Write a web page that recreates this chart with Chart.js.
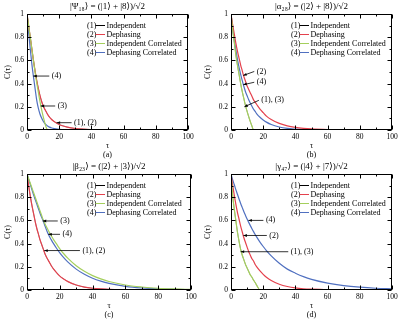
<!DOCTYPE html>
<html><head><meta charset="utf-8">
<script src="https://cdn.jsdelivr.net/npm/chart.js@4/dist/chart.umd.min.js"></script>
<style>
html,body{margin:0;padding:0;background:#fff;}
#wrap{position:relative;width:401px;height:321px;overflow:hidden;background:#fff;}
.pane{position:absolute;}
</style></head><body>
<div id="wrap">
<div class="pane" style="left:0;top:0;width:200px;height:160px"><canvas id="ca"></canvas></div>
<div class="pane" style="left:200px;top:0;width:201px;height:160px"><canvas id="cb"></canvas></div>
<div class="pane" style="left:0;top:160px;width:200px;height:160px"><canvas id="cc"></canvas></div>
<div class="pane" style="left:200px;top:160px;width:201px;height:160px"><canvas id="cd"></canvas></div>
</div>
<script>
// ---- data ----
const tau = [0,1,2,3,4,5,6,7,8,9,10,11,12,13,14,15,16,18,20,22,25,30,35,40,45,50,60,70,80,90,100];
const seriesNames = ['Independent','Dephasing','Independent Correlated','Dephasing Correlated'];

// panel (a)
const dephA  = [1,0.9,0.8,0.7,0.6,0.51,0.43,0.36,0.3,0.25,0.21,0.18,0.155,0.13,0.11,0.095,0.082,0.063,0.048,0.037,0.025,0.013,0.007,0.004,0.002,0.001,0,0,0,0,0];
const icorrA = [1,0.9,0.8,0.7,0.6,0.5,0.41,0.33,0.25,0.18,0.12,0.065,0.02,0,0,0,0,0,0,0,0,0,0,0,0,0,0,0,0,0,0];
const dcorrA = [1,0.84,0.7,0.57,0.46,0.36,0.26,0.19,0.14,0.105,0.078,0.058,0.044,0.033,0.025,0.019,0.015,0.009,0.005,0.003,0.001,0,0,0,0,0,0,0,0,0,0];
const indepA = dephA;   // (1) coincides with (2)

// panel (b)
const dephB  = [1,0.91,0.83,0.75,0.68,0.62,0.56,0.51,0.46,0.42,0.38,0.35,0.32,0.29,0.26,0.24,0.22,0.18,0.15,0.12,0.09,0.057,0.035,0.022,0.014,0.009,0.004,0.002,0.001,0,0];
const icorrB = [1,0.87,0.76,0.65,0.56,0.48,0.4,0.33,0.27,0.21,0.16,0.115,0.072,0.034,0,0,0,0,0,0,0,0,0,0,0,0,0,0,0,0,0];
const dcorrB = [1,0.885,0.78,0.69,0.61,0.54,0.48,0.425,0.375,0.33,0.295,0.26,0.23,0.205,0.18,0.16,0.14,0.11,0.087,0.068,0.047,0.026,0.014,0.008,0.004,0.002,0.001,0,0,0,0];
const indepB = icorrB;  // (1) coincides with (3)

// panel (c)
const dephC  = [1,0.9,0.81,0.73,0.66,0.59,0.53,0.48,0.43,0.39,0.35,0.31,0.28,0.255,0.23,0.205,0.185,0.15,0.12,0.099,0.072,0.043,0.025,0.015,0.009,0.005,0.002,0.001,0,0,0];
const icorrC = [1,0.96,0.92,0.88,0.84,0.8,0.76,0.72,0.68,0.64,0.6,0.569,0.541,0.513,0.487,0.463,0.439,0.397,0.354,0.319,0.272,0.209,0.161,0.124,0.096,0.073,0.043,0.026,0.015,0.009,0.005];
const dcorrC = [1,0.955,0.91,0.865,0.82,0.78,0.74,0.7,0.66,0.625,0.59,0.551,0.514,0.48,0.453,0.428,0.404,0.36,0.321,0.286,0.24,0.18,0.135,0.101,0.076,0.057,0.032,0.018,0.01,0.006,0.003];
const indepC = dephC;   // (1) coincides with (2)

// panel (d)
const dephD  = [1,0.905,0.82,0.74,0.67,0.61,0.55,0.5,0.45,0.41,0.37,0.33,0.3,0.27,0.25,0.22,0.2,0.165,0.135,0.11,0.082,0.05,0.03,0.018,0.011,0.007,0.002,0.001,0,0,0];
const icorrD = [1,0.82,0.7,0.6,0.5,0.42,0.35,0.3,0.26,0.22,0.19,0.16,0.13,0.11,0.085,0.065,0.04,0,0,0,0,0,0,0,0,0,0,0,0,0,0];
const dcorrD = [1,0.95,0.91,0.865,0.825,0.785,0.745,0.71,0.675,0.643,0.612,0.583,0.555,0.528,0.503,0.479,0.456,0.413,0.375,0.34,0.294,0.23,0.18,0.145,0.115,0.092,0.06,0.038,0.024,0.015,0.01];
const indepD = icorrD;  // (1) coincides with (3)

const titles = ['|Ψ\u2081\u2088\u27E9 = (|1\u27E9 + |8\u27E9)/\u221A2',
                '|α\u2082\u2088\u27E9 = (|2\u27E9 + |8\u27E9)/\u221A2',
                '|β\u2082\u2083\u27E9 = (|2\u27E9 + |3\u27E9)/\u221A2',
                '|γ\u2084\u2087\u27E9 = (|4\u27E9 + |7\u27E9)/\u221A2'];
const panelLetters = ['(a)','(b)','(c)','(d)'];

// ---- styling ----
const SERIF = "'Liberation Serif','Times New Roman','DejaVu Serif',serif";
const COL = {indep:'#000000', deph:'#e4414d', icorr:'#a4cf5c', dcorr:'#5070c0'};

const pts = v => tau.map((t,i)=>({x:t,y:v[i]}));

const framePlugin = {
  id:'frame',
  afterDatasetsDraw(chart){
    const {ctx, chartArea:a, scales:{x,y}} = chart;
    const L=Math.round(a.left)+0.5, R=Math.round(a.right)-0.5, T=Math.round(a.top)+0.5, B=Math.round(a.bottom)-0.5;
    ctx.save();
    ctx.strokeStyle='#000'; ctx.lineWidth=1;
    ctx.strokeRect(L,T,R-L,B-T);
    ctx.beginPath();
    for(let v=0; v<=100; v+=10){
      const px=Math.round(x.getPixelForValue(v))+0.5, len=(v%20===0)?4:2;
      ctx.moveTo(px,B); ctx.lineTo(px,B-len);
      ctx.moveTo(px,T); ctx.lineTo(px,T+len);
    }
    for(let k=0;k<=10;k++){
      const py=Math.round(y.getPixelForValue(k/10))+0.5, len=(k%2===0)?4:2;
      ctx.moveTo(L,py); ctx.lineTo(L+len,py);
      ctx.moveTo(R,py); ctx.lineTo(R-len,py);
    }
    ctx.stroke();
    ctx.restore();
  }
};

const legendPlugin = {
  id:'legendText',
  afterDraw(chart){
    const {ctx, chartArea:a} = chart;
    const cols=[COL.indep,COL.deph,COL.icorr,COL.dcorr];
    const x0=a.left+60;
    ctx.save();
    ctx.font='8px '+SERIF; ctx.textBaseline='middle'; ctx.fillStyle='#000';
    for(let i=0;i<4;i++){
      const y=Math.round(a.top+11+9*i)+0.5;
      ctx.fillText('('+(i+1)+')', x0, y);
      ctx.strokeStyle=cols[i]; ctx.lineWidth=1;
      ctx.beginPath(); ctx.moveTo(x0+8.5,y); ctx.lineTo(x0+18,y); ctx.stroke();
      ctx.fillText(seriesNames[i], x0+19.5, y);
    }
    ctx.restore();
  }
};

const annotPlugin = {
  id:'annot',
  afterDraw(chart){
    const list = chart.options.plugins.annot.items || [];
    const {ctx, scales:{x,y}} = chart;
    ctx.save();
    ctx.font='8px '+SERIF; ctx.textBaseline='middle'; ctx.fillStyle='#000'; ctx.strokeStyle='#000'; ctx.lineWidth=0.8;
    for(const it of list){
      const tx=x.getPixelForValue(it.t), ty=y.getPixelForValue(it.v);
      const ex=tx+it.dx, ey=ty+it.dy;
      ctx.beginPath(); ctx.moveTo(tx,ty); ctx.lineTo(ex,ey); ctx.stroke();
      const ang=Math.atan2(ey-ty,ex-tx), hl=3.5, hw=1.4;
      const bx=tx+Math.cos(ang)*hl, by=ty+Math.sin(ang)*hl;
      ctx.beginPath();
      ctx.moveTo(tx,ty);
      ctx.lineTo(bx-Math.sin(ang)*hw, by+Math.cos(ang)*hw);
      ctx.lineTo(bx+Math.sin(ang)*hw, by-Math.cos(ang)*hw);
      ctx.closePath(); ctx.fill();
      ctx.fillText(it.label, ex+2.5, ey);
    }
    ctx.restore();
  }
};

function makeChart(id, idx, s, yWidth, padRight, items){
  // lower "order" is drawn on top; series (1) lies underneath the curve it coincides with
  const ds = (label, data, color, order, w) => ({label, data: pts(data), borderColor: color, backgroundColor: color,
      borderWidth: w, pointRadius: 0, fill: false, cubicInterpolationMode: 'monotone', order});
  new Chart(document.getElementById(id), {
    type: 'line',
    data: { datasets: [
      ds('(1) '+seriesNames[0], s.indep, COL.indep, 9, 0.4),
      ds('(2) '+seriesNames[1], s.deph, COL.deph, 1, 1.2),
      ds('(3) '+seriesNames[2], s.icorr, COL.icorr, 0, 1.2),
      ds('(4) '+seriesNames[3], s.dcorr, COL.dcorr, 2, 1.2)
    ]},
    options: {
      responsive: true, maintainAspectRatio: false, animation: false, devicePixelRatio: 1,
      layout: { padding: { left: 0, right: padRight, top: 0, bottom: 0 } },
      plugins: {
        legend: { display: false }, tooltip: { enabled: false },
        title: { display: true, text: titles[idx], fullSize: false, color: '#000',
                 font: { family: SERIF, size: 9, weight: 'normal' }, padding: { top: 1, bottom: 2.2 } },
        annot: { items }
      },
      scales: {
        x: { type: 'linear', min: 0, max: 100,
             ticks: { stepSize: 20, color: '#000', font: { family: SERIF, size: 7.5 }, padding: 3, maxRotation: 0 },
             grid: { display: false, drawTicks: false }, border: { display: false },
             title: { display: true, text: ['τ', panelLetters[idx]], color: '#000',
                      font: { family: SERIF, size: 8, lineHeight: 1.1 }, padding: { top: 0, bottom: 1 } },
             afterFit(sc){ sc.height = 30; } },
        y: { min: 0, max: 1,
             ticks: { stepSize: 0.2, color: '#000', font: { family: SERIF, size: 7.5 }, padding: 3,
                      callback: v => String(Math.round(v*10)/10) },
             grid: { display: false, drawTicks: false }, border: { display: false },
             title: { display: true, text: 'C(τ)', color: '#000',
                      font: { family: SERIF, size: 8 }, padding: { top: 3, bottom: 0 } },
             afterFit(sc){ sc.width = yWidth; } }
      }
    },
    plugins: [framePlugin, legendPlugin, annotPlugin]
  });
}

makeChart('ca', 0, {deph:dephA, icorr:icorrA, dcorr:dcorrA, indep:indepA}, 27, 12, [
  {t:3.9, v:0.465, dx:16, dy:0, label:'(4)'},
  {t:8.5, v:0.207, dx:14.5, dy:0, label:'(3)'},
  {t:18.4, v:0.063, dx:15, dy:0, label:'(1), (2)'}
]);
makeChart('cb', 1, {deph:dephB, icorr:icorrB, dcorr:dcorrB, indep:indepB}, 31, 9, [
  {t:7.6, v:0.47, dx:11, dy:-4, label:'(2)'},
  {t:7.6, v:0.39, dx:11, dy:-2.5, label:'(4)'},
  {t:8.3, v:0.2, dx:14.5, dy:-6.5, label:'(1), (3)'}
]);
makeChart('cc', 2, {deph:dephC, icorr:icorrC, dcorr:dcorrC, indep:indepC}, 27, 9, [
  {t:9.6, v:0.595, dx:15, dy:0, label:'(3)'},
  {t:13, v:0.48, dx:11.7, dy:0, label:'(4)'},
  {t:10.5, v:0.34, dx:35.7, dy:0, label:'(1), (2)'}
]);
makeChart('cd', 3, {deph:dephD, icorr:icorrD, dcorr:dcorrD, indep:indepD}, 31, 9, [
  {t:10.8, v:0.6, dx:15, dy:0, label:'(4)'},
  {t:7.7, v:0.47, dx:23.4, dy:0, label:'(2)'},
  {t:6, v:0.33, dx:47.6, dy:0, label:'(1), (3)'}
]);
</script>
</body></html>
